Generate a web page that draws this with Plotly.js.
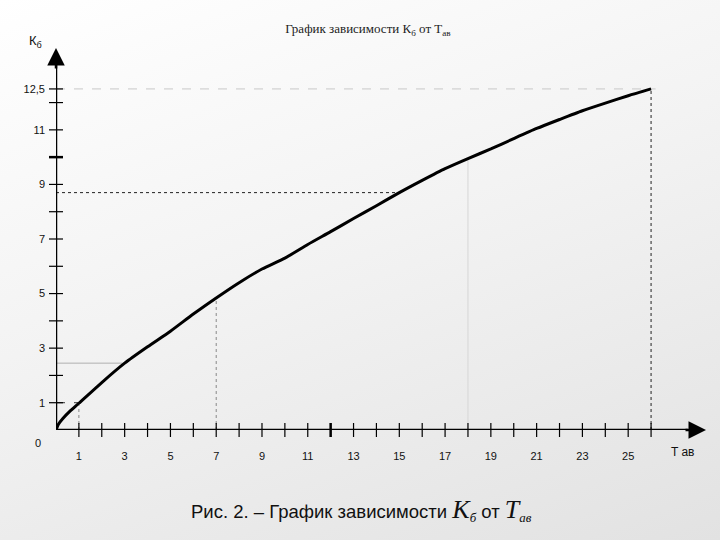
<!DOCTYPE html>
<html>
<head>
<meta charset="utf-8">
<script src="https://cdn.plot.ly/plotly-3.0.1.min.js"></script>
<style>
html,body{margin:0;padding:0;}
body{width:720px;height:540px;background:linear-gradient(160deg,#ffffff 0%,#f3f3f3 45%,#e2e2e2 100%);}
#chart{width:720px;height:540px;}
</style>
</head>
<body>
<div id="chart"></div>
<script>
// Curve K_б vs T_ав
const tValues = [0, 0.1, 0.3, 0.6, 1, 2, 3, 4, 5, 6, 7, 8, 9, 10, 11, 12, 13, 14, 15, 16, 17, 18, 19, 20, 21, 22, 23, 24, 25, 26];
const kValues = [0, 0.2, 0.42, 0.68, 0.98, 1.74, 2.45, 3.05, 3.62, 4.25, 4.84, 5.4, 5.9, 6.3, 6.8, 7.27, 7.75, 8.22, 8.7, 9.15, 9.58, 9.95, 10.3, 10.68, 11.05, 11.38, 11.7, 11.98, 12.25, 12.5];

// Tick labels
const xTickVals = [1, 3, 5, 7, 9, 11, 13, 15, 17, 19, 21, 23, 25];
const xTickText = ['1', '3', '5', '7', '9', '11', '13', '15', '17', '19', '21', '23', '25'];
const yTickVals = [1, 3, 5, 7, 9, 11, 12.5];
const yTickText = ['1', '3', '5', '7', '9', '11', '12,5'];

// Tick marks crossing the axes
const xTickMarks = [1,2,3,4,5,6,7,8,9,10,11,12,13,14,15,16,17,18,19,20,21,22,23,24,25,26];
const xTickBold = [12];
const yTickMarks = [1,2,3,4,5,6,7,8,9,10,11,12,12.5];
const yTickBold = [10];

// Reference (projection) lines
const refH = [ // horizontal: y, from x 0 to xEnd
  {y: 12.5, xEnd: 26.2, color: '#c8c8c8', dash: 'dash'},
  {y: 8.7, xEnd: 15, color: '#222222', dash: 'dot'},
  {y: 2.45, xEnd: 2.9, color: '#b0b0b0', dash: 'solid'},
  {y: 1.0, xEnd: 1.0, color: '#333333', dash: 'dash'}
];
const refV = [ // vertical: x, from y 0 to yEnd
  {x: 26, yEnd: 12.5, color: '#222222', dash: 'dot'},
  {x: 18, yEnd: 9.95, color: '#d6d6d6', dash: 'solid'},
  {x: 7, yEnd: 4.84, color: '#888888', dash: 'dot'},
  {x: 1, yEnd: 0.98, color: '#888888', dash: 'dot'}
];

const traces = [];
refH.forEach(r => traces.push({x: [0, r.xEnd], y: [r.y, r.y], mode: 'lines', line: {color: r.color, width: 1, dash: r.dash}, hoverinfo: 'skip', showlegend: false}));
refV.forEach(r => traces.push({x: [r.x, r.x], y: [0, r.yEnd], mode: 'lines', line: {color: r.color, width: 1, dash: r.dash}, hoverinfo: 'skip', showlegend: false}));
traces.push({x: tValues, y: kValues, mode: 'lines', line: {color: '#000', width: 3, shape: 'spline', smoothing: 0.6}, showlegend: false});

const shapes = [];
xTickMarks.forEach(v => shapes.push({type: 'line', xref: 'x', yref: 'paper', x0: v, x1: v, ysizemode: 'pixel', yanchor: 0, y0: -7, y1: 7, line: {color: '#000', width: xTickBold.includes(v) ? 2.5 : 1.2}}));
yTickMarks.forEach(v => shapes.push({type: 'line', xref: 'paper', yref: 'y', y0: v, y1: v, xsizemode: 'pixel', xanchor: 0, x0: -7, x1: 7, line: {color: '#000', width: yTickBold.includes(v) ? 2.5 : 1.2}}));

const sans = 'Liberation Sans, Arial, sans-serif';
const serif = 'Liberation Serif, Times New Roman, serif';
const layout = {
  width: 720, height: 540,
  margin: {l: 56, r: 14, t: 48, b: 110},
  paper_bgcolor: 'rgba(0,0,0,0)',
  plot_bgcolor: 'rgba(0,0,0,0)',
  title: {text: 'График зависимости К<sub>б</sub> от Т<sub>ав</sub>', font: {family: serif, size: 13, color: '#222'}, x: 0.511, xanchor: 'center', y: 0.947, yanchor: 'middle'},
  xaxis: {range: [0, 28.4], showgrid: false, zeroline: false, showline: false, ticks: '',
    tickmode: 'array', tickvals: xTickVals, ticktext: xTickText, ticklabelstandoff: 18,
    tickfont: {family: sans, size: 11, color: '#111'}, fixedrange: true},
  yaxis: {range: [0, 14], showgrid: false, zeroline: false, showline: false, ticks: '',
    tickmode: 'array', tickvals: yTickVals, ticktext: yTickText, ticklabelstandoff: 10,
    tickfont: {family: sans, size: 11, color: '#111'}, fixedrange: true},
  shapes: shapes.concat([
    {type: 'line', xref: 'x', yref: 'y', x0: 0, x1: 27.6, y0: 0, y1: 0, line: {color: '#000', width: 2.5}},
    {type: 'line', xref: 'x', yref: 'y', x0: 0, x1: 0, y0: 0, y1: 13.4, line: {color: '#000', width: 2.5}}
  ]),
  annotations: [
    {xref: 'x', yref: 'y', x: 28.4, y: 0, ax: -22, ay: 0, text: '', showarrow: true, arrowhead: 2, arrowsize: 1.4, arrowwidth: 2.5, arrowcolor: '#000'},
    {xref: 'x', yref: 'y', x: 0, y: 14, ax: 0, ay: 22, text: '', showarrow: true, arrowhead: 2, arrowsize: 1.4, arrowwidth: 2.5, arrowcolor: '#000'},
    {xref: 'x', yref: 'y', x: 0, y: 0, xshift: -18, yshift: -13, text: '0', showarrow: false, font: {family: sans, size: 11, color: '#111'}},
    {xref: 'paper', yref: 'paper', x: -0.019, y: 1.017, text: 'К<sub>б</sub>', showarrow: false, xanchor: 'right', yanchor: 'middle', font: {family: sans, size: 13, color: '#111'}},
    {xref: 'paper', yref: 'y', x: 0.965, y: 0, yshift: -22, text: 'T ав', showarrow: false, xanchor: 'center', font: {family: sans, size: 12, color: '#111'}},
    {xref: 'paper', yref: 'paper', x: 0.47, y: -0.21, xanchor: 'center', yanchor: 'middle', showarrow: false,
      text: 'Рис. 2. – График зависимости <span style="font-family:Liberation Serif, serif;font-style:italic;font-size:26px">K</span><sub><span style="font-family:Liberation Serif, serif;font-style:italic">б</span></sub> от <span style="font-family:Liberation Serif, serif;font-style:italic;font-size:26px">T</span><sub><span style="font-family:Liberation Serif, serif;font-style:italic">ав</span></sub>',
      font: {family: sans, size: 18.5, color: '#111'}}
  ]
};

Plotly.newPlot('chart', traces, layout, {displayModeBar: false, staticPlot: true});
</script>
</body>
</html>
